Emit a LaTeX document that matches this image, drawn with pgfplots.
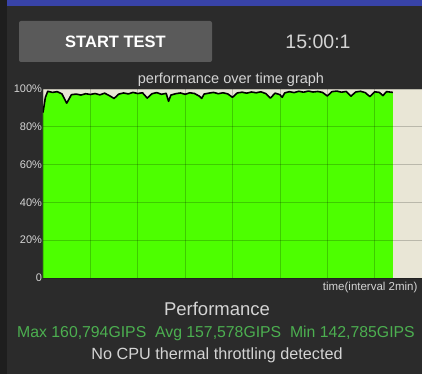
\documentclass[border=0pt]{standalone}
\usepackage{pgfplots}
\pgfplotsset{compat=1.18}
\usepackage{pgfplotstable}
\usepackage{fontspec}
\setmainfont{Liberation Sans}
\definecolor{bgdark}{HTML}{2B2B2B}
\definecolor{stripdark}{HTML}{1E1E1E}
\definecolor{topblue}{HTML}{3843A8}
\definecolor{btngray}{HTML}{5A5A5A}
\definecolor{txtlight}{HTML}{D4D4D4}
\definecolor{lime}{HTML}{4DFF00}
\definecolor{beige}{HTML}{E9E6D6}
\definecolor{statgreen}{HTML}{4CAF50}
\pgfplotstableread{
t v
0.0 87.5
0.1 95.5
0.2 98.8
0.4 98.2
0.6 98.6
0.8 97.4
1.0 92.5
1.2 97.0
1.4 97.3
1.6 96.8
1.8 97.5
2.0 97.1
2.2 97.6
2.4 96.9
2.6 97.8
2.8 96.5
3.0 95.0
3.2 97.3
3.4 97.9
3.6 97.4
3.8 98.2
4.0 97.6
4.2 98.0
4.4 95.2
4.6 97.5
4.8 98.1
5.0 97.2
5.2 97.7
5.3 93.5
5.4 96.8
5.6 97.5
5.8 97.9
6.0 97.2
6.2 98.0
6.4 97.6
6.6 96.2
6.7 95.0
6.8 97.3
7.0 97.8
7.2 98.2
7.4 97.5
7.6 98.0
7.8 97.4
8.0 95.6
8.2 97.9
8.4 98.3
8.6 97.8
8.8 98.4
9.0 98.0
9.2 98.5
9.4 97.6
9.6 95.2
9.8 97.8
10.0 97.0
10.1 95.6
10.2 97.9
10.4 98.6
10.6 98.1
10.8 98.8
11.0 98.3
11.2 98.9
11.4 98.4
11.6 98.7
11.8 98.2
12.0 96.3
12.2 98.6
12.4 98.9
12.6 98.3
12.8 98.7
13.0 96.2
13.2 98.4
13.4 98.8
13.6 98.1
13.8 96.0
14.0 98.5
14.2 98.2
14.35 96.5
14.5 98.6
14.77 98.2
}\perfdata
\begin{document}
\begin{tikzpicture}[x=1pt,y=1pt]
\useasboundingbox (0,0) rectangle (422,374);
\fill[bgdark] (0,0) rectangle (422,374);
\fill[stripdark] (0,0) rectangle (7,374);
\fill[topblue] (7,368) rectangle (422,374);
\fill[btngray, rounded corners=2pt] (19,312) rectangle (212,353);
\node[anchor=base, text=white, font=\bfseries\fontsize{16.5}{16.5}\selectfont] at (115.5,326) {START TEST};
\node[anchor=base, text=txtlight, font=\fontsize{19.5}{19.5}\selectfont] at (318,325) {15:00:1};
\node[anchor=base, text=txtlight, font=\fontsize{14.5}{14.5}\selectfont] at (231,290) {performance over time graph};
\begin{axis}[
  at={(43pt,96pt)}, anchor=south west,
  scale only axis, width=379pt, height=189pt,
  xmin=0, xmax=16, ymin=0, ymax=100,
  xtick={0,2,...,16}, xticklabels={},
  ytick={0,20,40,60,80,100},
  yticklabels={0,20\%,40\%,60\%,80\%,100\%},
  yticklabel style={text=txtlight, font=\fontsize{11}{11}\selectfont, xshift=2.5pt},
  grid=major,
  grid style={black, opacity=0.2, line width=0.6pt},
  axis on top,
  axis line style={draw=none},
  major tick length=0pt,
  axis background/.style={fill=beige},
  clip=true,
]
\addplot[draw=none, fill=lime] table[x=t, y=v] {\perfdata} \closedcycle;
\addplot[draw=black, line width=1.6pt, line join=round] table[x=t, y=v] {\perfdata};
\end{axis}
\node[anchor=base east, text=txtlight, font=\fontsize{11.5}{11.5}\selectfont] at (421,83) {time(interval 2min)};
\node[anchor=base, text=txtlight, font=\fontsize{18.5}{18.5}\selectfont] at (217,58) {Performance};
\node[anchor=base, text=statgreen, font=\fontsize{15.8}{15.8}\selectfont] at (216,36) {Max 160,794GIPS\ \ Avg 157,578GIPS\ \ Min 142,785GIPS};
\node[anchor=base, text=txtlight, font=\fontsize{16.2}{16.2}\selectfont] at (217,15) {No CPU thermal throttling detected};
\end{tikzpicture}
\end{document}
